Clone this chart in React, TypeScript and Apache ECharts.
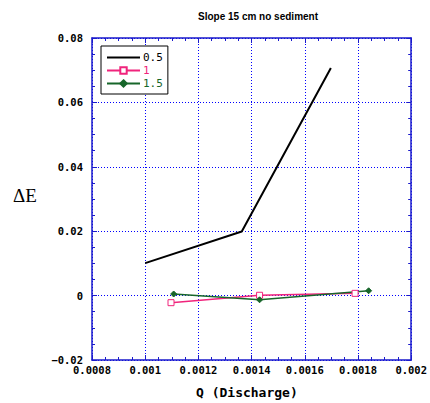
import React, { useEffect, useRef } from "react";
import * as echarts from "echarts";

const seriesNames = ["0.5", "1", "1.5"];
const q05 = [0.001, 0.001363, 0.001698];
const e05 = [0.0101, 0.0199, 0.0707];
const q10 = [0.001097, 0.00143, 0.001789];
const e10 = [-0.0022, 0.0001, 0.0007];
const q15 = [0.001107, 0.00143, 0.00184];
const e15 = [0.0005, -0.0013, 0.0015];
const colors = ["#000000", "#f0247c", "#17662a"];

const zip = (xs: number[], ys: number[]) => xs.map((x, i) => [x, ys[i]]);

const fmt = (v: number) => {
  const s = parseFloat(v.toFixed(4)).toString();
  return s.startsWith("-") ? "\u2212" + s.slice(1) : s;
};

const blue = "#1a1acc";
const labelFont = {
  color: "#000",
  fontFamily: "DejaVu Sans Mono",
  fontWeight: "bold" as const,
  fontSize: 10.5,
};

function baseAxis(extra: any) {
  return {
    type: "value",
    axisLine: { show: true, onZero: false, lineStyle: { color: blue, width: 1.5 } },
    axisTick: { show: true, inside: true, length: 5, lineStyle: { color: blue } },
    minorTick: { show: true, splitNumber: 4, length: 3, lineStyle: { color: blue } },
    ...extra,
  };
}

export default function App() {
  const ref = useRef<HTMLDivElement>(null);
  useEffect(() => {
    const chart = echarts.init(ref.current!, undefined, { renderer: "svg" });
    chart.setOption({
      animation: false,
      title: {
        text: "Slope 15 cm no sediment",
        left: 253,
        top: 6,
        textAlign: "center",
        textStyle: { fontFamily: "Liberation Sans", fontWeight: "bold", fontSize: 10, color: "#000" },
      },
      grid: { left: 92, right: 16, top: 38, bottom: 43 },
      legend: {
        left: 101,
        top: 46,
        orient: "vertical",
        backgroundColor: "#fff",
        borderColor: "#000",
        borderWidth: 1,
        borderRadius: 0,
        padding: [6, 5, 5, 5],
        itemWidth: 33,
        itemHeight: 8,
        itemGap: 2,
        data: seriesNames.map((n, i) => ({
          name: n,
          ...(i === 0 ? { itemStyle: { opacity: 0, color: "transparent", borderWidth: 0 } } : {}),
          textStyle: { color: colors[i], fontFamily: "DejaVu Sans Mono", fontSize: 11, lineHeight: 8, padding: [0, 0, 0, -2] },
        })),
      },
      xAxis: [
        baseAxis({
          min: 0.0008,
          max: 0.002,
          interval: 0.0002,
          position: "bottom",
          axisLabel: { ...labelFont, margin: 4, formatter: fmt },
          splitLine: { show: true, lineStyle: { color: "#0000ff", type: [1, 2], width: 1 } },
        }),
        baseAxis({
          min: 0.0008,
          max: 0.002,
          interval: 0.0002,
          position: "top",
          axisLabel: { show: false },
          splitLine: { show: false },
        }),
      ],
      yAxis: [
        baseAxis({
          min: -0.02,
          max: 0.08,
          interval: 0.02,
          position: "left",
          axisLabel: { ...labelFont, margin: 9, formatter: fmt },
          splitLine: { show: true, lineStyle: { color: "#0000ff", type: [1, 2], width: 1 } },
        }),
        baseAxis({
          min: -0.02,
          max: 0.08,
          interval: 0.02,
          position: "right",
          axisLabel: { show: false },
          splitLine: { show: false },
        }),
      ],
      graphic: [
        {
          type: "text",
          left: 196,
          top: 386,
          style: { text: "Q (Discharge)", fontFamily: "DejaVu Sans Mono", fontWeight: "bold", fontSize: 13, fill: "#000" },
        },
        {
          type: "text",
          left: 13,
          top: 186,
          style: { text: "\u0394E", fontFamily: "Liberation Serif", fontSize: 19, fill: "#000" },
        },
      ],
      series: [
        {
          name: seriesNames[0],
          type: "line",
          data: zip(q05, e05),
          symbol: "none",
          lineStyle: { color: colors[0], width: 2 },
          itemStyle: { color: colors[0] },
        },
        {
          name: seriesNames[1],
          type: "line",
          data: zip(q10, e10),
          symbol: "rect",
          symbolSize: 6,
          lineStyle: { color: colors[1], width: 1.5 },
          itemStyle: { color: "#fff", borderColor: colors[1], borderWidth: 1 },
        },
        {
          name: seriesNames[2],
          type: "line",
          data: zip(q15, e15),
          symbol: "diamond",
          symbolSize: 6,
          lineStyle: { color: colors[2], width: 1.5 },
          itemStyle: { color: colors[2], borderColor: colors[2], borderWidth: 1 },
        },
      ],
    });
    return () => chart.dispose();
  }, []);
  return <div ref={ref} style={{ width: 430, height: 403, position: "absolute", left: 0, top: 0 }} />;
}
